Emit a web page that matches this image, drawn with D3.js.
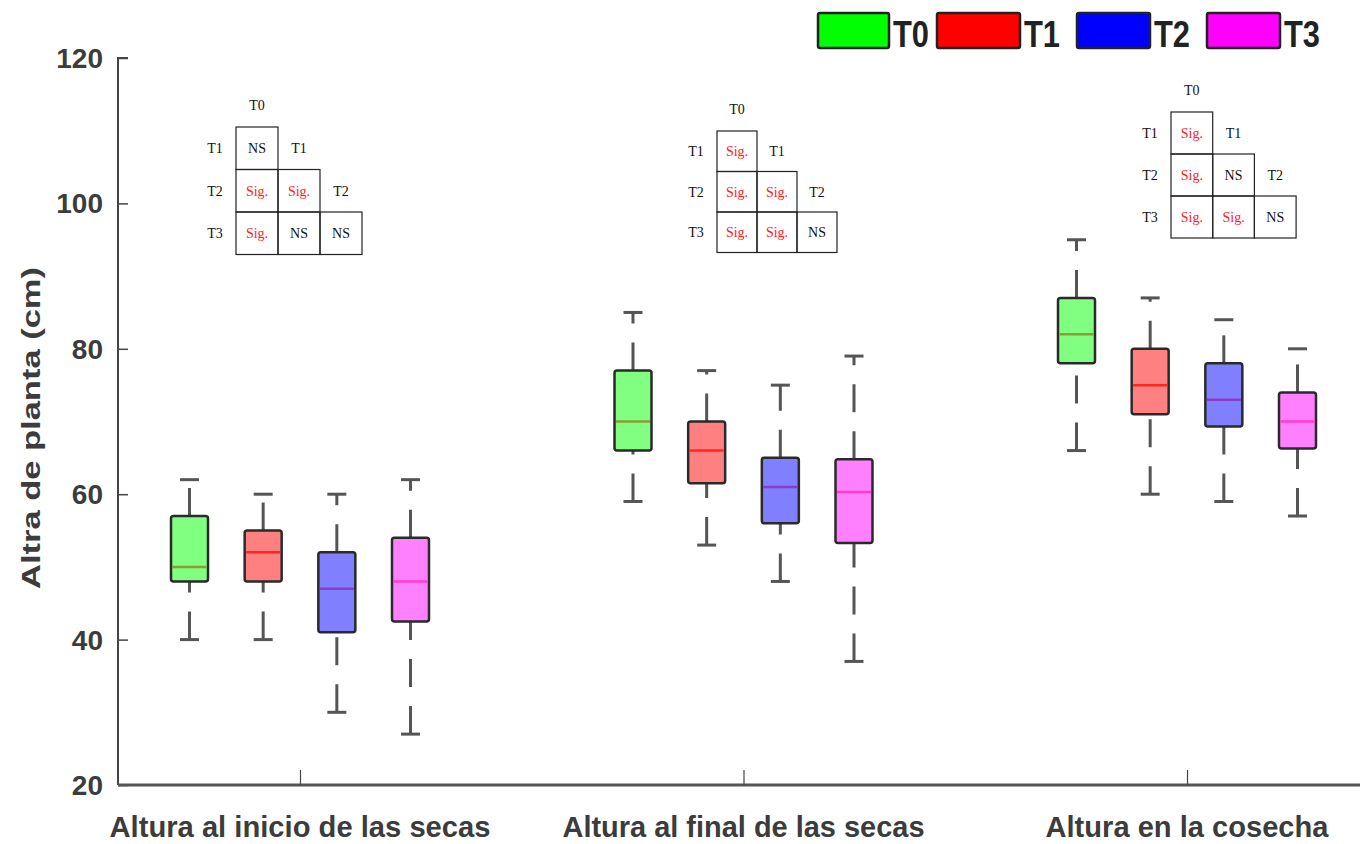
<!DOCTYPE html>
<html>
<head>
<meta charset="utf-8">
<script src="https://cdn.jsdelivr.net/npm/d3@7"></script>
<style>
  body { margin: 0; background: #fff; }
  svg { display: block; }
</style>
</head>
<body>
<svg id="chart" width="1360" height="844"></svg>
<script>
// categories and treatments
let categories = ['Altura al inicio de las secas', 'Altura al final de las secas', 'Altura en la cosecha']
let treatments = ['T0', 'T1', 'T2', 'T3']
let yTicks = [20, 40, 60, 80, 100, 120]

// box statistics, [category][treatment]
let lowVals = [[40, 40, 30, 27], [59, 53, 48, 37], [66, 60, 59, 57]]
let q1Vals = [[48, 48, 41, 42.5], [66, 61.5, 56, 53.3], [78, 71, 69.3, 66.3]]
let medVals = [[50, 52, 47, 48], [70, 66, 61, 60.3], [82, 75, 73, 70]]
let q3Vals = [[57, 55, 52, 54], [77, 70, 65, 64.8], [87, 80, 78, 74]]
let highVals = [[62, 60, 60, 62], [85, 77, 75, 79], [95, 87, 84, 80]]

// pairwise comparisons, rows T1..T3, columns T0..
let sigTables = [
  [['NS'], ['Sig.', 'Sig.'], ['Sig.', 'NS', 'NS']],
  [['Sig.'], ['Sig.', 'Sig.'], ['Sig.', 'Sig.', 'NS']],
  [['Sig.'], ['Sig.', 'NS'], ['Sig.', 'Sig.', 'NS']]
]

const fillColors = ['#80ff80', '#ff8080', '#8080ff', '#ff80ff']
const legendColors = ['#00ff00', '#ff0000', '#0000ff', '#ff00ff']
const medianColors = ['#8a9e35', '#ff2626', '#8a3cc8', '#ff3ccc']

// table placement (left, top, cell size)
const tableLayout = [
  { x: 236, y: 127, w: 42, h: 42.5 },
  { x: 717, y: 131, w: 40, h: 40.5 },
  { x: 1171, y: 112, w: 41.7, h: 42 }
]

const svg = d3.select('#chart')
const sansBold = '"Liberation Sans", Arial, sans-serif'
const serif = '"Liberation Serif", "Times New Roman", serif'

let y = d3.scaleLinear().domain([20, 120]).range([785, 58])
let x = d3.scalePoint().domain(categories).range([300, 1187])
let xOff = d3.scalePoint().domain(treatments).range([-110.5, 110.5])
const boxW = 37
const capW = 19

let drawAxes = () => {
  // y axis
  let yAxis = svg.append('g')
    .attr('transform', 'translate(118,0)')
    .call(d3.axisRight(y).tickValues(yTicks).tickSize(10).tickFormat(''))
  yAxis.select('.domain').attr('stroke', '#444').attr('stroke-width', 2)
    .attr('d', 'M10,' + y(120) + 'H0V' + y(20))
  yAxis.selectAll('.tick line').attr('stroke', '#444').attr('stroke-width', 1.5)

  svg.selectAll('.ylab')
    .data(yTicks)
    .enter()
    .append('text')
    .attr('class', 'ylab')
    .attr('x', 103)
    .attr('y', d => y(d) + 10)
    .attr('text-anchor', 'end')
    .attr('font-family', sansBold)
    .attr('font-weight', 'bold')
    .attr('font-size', 28)
    .attr('fill', '#3c3c3c')
    .text(d => d)

  svg.append('text')
    .attr('transform', 'translate(40,428) rotate(-90)')
    .attr('text-anchor', 'middle')
    .attr('font-family', sansBold)
    .attr('font-weight', 'bold')
    .attr('font-size', 26)
    .attr('fill', '#3c3c3c')
    .attr('textLength', 322)
    .attr('lengthAdjust', 'spacingAndGlyphs')
    .text('Altra de planta (cm)')

  // x axis
  let xAxis = svg.append('g')
    .attr('transform', 'translate(0,785)')
    .call(d3.axisTop(x).tickSize(15).tickFormat(''))
  xAxis.select('.domain').attr('stroke', '#555').attr('stroke-width', 3)
    .attr('d', 'M118,0H1360')
  xAxis.selectAll('.tick line').attr('stroke', '#444').attr('stroke-width', 1.2)

  svg.selectAll('.xlab')
    .data(categories)
    .enter()
    .append('text')
    .attr('class', 'xlab')
    .attr('x', d => x(d))
    .attr('y', 837)
    .attr('text-anchor', 'middle')
    .attr('font-family', sansBold)
    .attr('font-weight', 'bold')
    .attr('font-size', 29)
    .attr('fill', '#3c3c3c')
    .attr('textLength', (d, i) => [381, 362, 283][i])
    .attr('lengthAdjust', 'spacingAndGlyphs')
    .text(d => d)
}

let drawBoxes = () => {
  let items = []
  categories.forEach((c, ci) => {
    treatments.forEach((t, ti) => {
      items.push({
        cx: x(c) + xOff(t), ti: ti,
        low: lowVals[ci][ti], q1: q1Vals[ci][ti], med: medVals[ci][ti],
        q3: q3Vals[ci][ti], high: highVals[ci][ti]
      })
    })
  })

  let g = svg.selectAll('.box')
    .data(items)
    .enter()
    .append('g')
    .attr('class', 'box')

  // whiskers are drawn from the lower value upwards, dashed
  g.append('line')
    .attr('x1', d => d.cx).attr('x2', d => d.cx)
    .attr('y1', d => y(d.low)).attr('y2', d => y(d.q1))
    .attr('stroke', '#555').attr('stroke-width', 3)
    .attr('stroke-dasharray', '28 19')
  g.append('line')
    .attr('x1', d => d.cx).attr('x2', d => d.cx)
    .attr('y1', d => y(d.q3)).attr('y2', d => y(d.high))
    .attr('stroke', '#555').attr('stroke-width', 3)
    .attr('stroke-dasharray', '28 19')

  // caps
  g.selectAll('.cap')
    .data(d => [d.low, d.high].map(v => ({ cx: d.cx, val: v })))
    .enter()
    .append('line')
    .attr('x1', d => d.cx - capW / 2).attr('x2', d => d.cx + capW / 2)
    .attr('y1', d => y(d.val)).attr('y2', d => y(d.val))
    .attr('stroke', '#555').attr('stroke-width', 3)

  g.append('rect')
    .attr('x', d => d.cx - boxW / 2)
    .attr('y', d => y(d.q3))
    .attr('width', boxW)
    .attr('height', d => y(d.q1) - y(d.q3))
    .attr('rx', 2.5)
    .attr('fill', d => fillColors[d.ti])
    .attr('stroke', '#2a2a2a')
    .attr('stroke-width', 2.5)

  g.append('line')
    .attr('x1', d => d.cx - boxW / 2 + 1.5).attr('x2', d => d.cx + boxW / 2 - 1.5)
    .attr('y1', d => y(d.med)).attr('y2', d => y(d.med))
    .attr('stroke', d => medianColors[d.ti])
    .attr('stroke-width', 2.5)
}

let drawTables = () => {
  sigTables.forEach((table, k) => {
    let L = tableLayout[k]
    let g = svg.append('g').attr('font-family', serif).attr('font-size', 14)
    table.forEach((row, r) => {
      row.forEach((cell, c) => {
        g.append('rect')
          .attr('x', L.x + c * L.w).attr('y', L.y + r * L.h)
          .attr('width', L.w).attr('height', L.h)
          .attr('fill', 'none').attr('stroke', '#222').attr('stroke-width', 1.2)
        g.append('text')
          .attr('x', L.x + (c + 0.5) * L.w).attr('y', L.y + (r + 0.5) * L.h + 5)
          .attr('text-anchor', 'middle')
          .attr('fill', cell === 'NS' ? '#111' : '#ff2020')
          .text(cell)
      })
      // row label
      g.append('text')
        .attr('x', L.x - 21).attr('y', L.y + (r + 0.5) * L.h + 5)
        .attr('text-anchor', 'middle').attr('fill', '#111')
        .text(treatments[r + 1])
      // column header on the diagonal (none after the last row)
      if (r < table.length - 1) {
        g.append('text')
          .attr('x', L.x + (r + 1.5) * L.w).attr('y', L.y + (r + 0.5) * L.h + 5)
          .attr('text-anchor', 'middle').attr('fill', '#111')
          .text(treatments[r + 1])
      }
    })
    g.append('text')
      .attr('x', L.x + 0.5 * L.w).attr('y', L.y - 17)
      .attr('text-anchor', 'middle').attr('fill', '#111')
      .text('T0')
  })
}

let drawLegend = () => {
  let lx = d3.scaleOrdinal().domain(treatments).range([818, 937, 1077, 1207])
  let lw = d3.scaleOrdinal().domain(treatments).range([71, 83, 73, 73])
  let lg = svg.selectAll('.leg')
    .data(treatments)
    .enter()
    .append('g')
    .attr('class', 'leg')
  lg.append('rect')
    .attr('x', d => lx(d)).attr('y', 13)
    .attr('width', d => lw(d)).attr('height', 35)
    .attr('rx', 2)
    .attr('fill', (d, i) => legendColors[i])
    .attr('stroke', '#222').attr('stroke-width', 2.5)
  lg.append('text')
    .attr('x', d => lx(d) + lw(d) + 4).attr('y', 47)
    .attr('font-family', sansBold).attr('font-weight', 'bold')
    .attr('font-size', 36).attr('fill', '#222')
    .attr('textLength', 36)
    .attr('lengthAdjust', 'spacingAndGlyphs')
    .text(d => d)
}

drawAxes()
drawBoxes()
drawTables()
drawLegend()
</script>
</body>
</html>
